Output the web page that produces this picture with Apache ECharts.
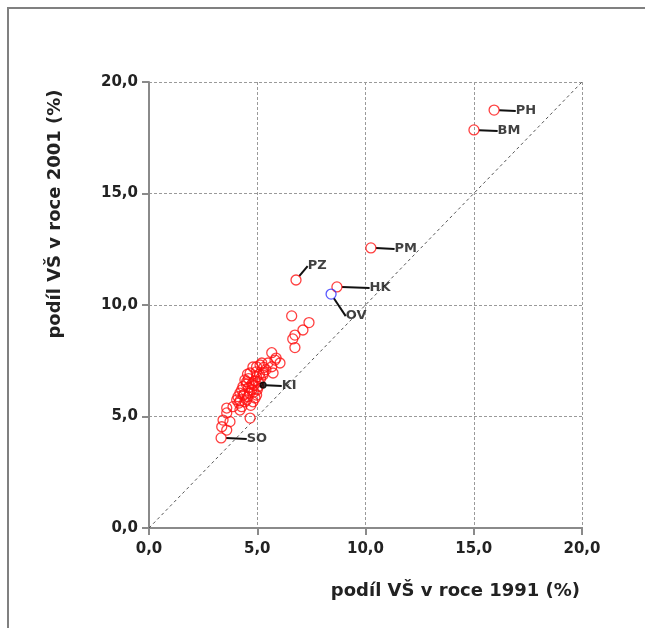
<!DOCTYPE html>
<html>
<head>
<meta charset="utf-8">
<script src="https://cdn.jsdelivr.net/npm/echarts@6/dist/echarts.min.js"></script>
<style>html,body{margin:0;padding:0;background:#fff}#c{width:645px;height:628px}</style>
</head>
<body>
<div id="c"></div>
<script>
// Unlabelled districts: share of university graduates 1991 vs 2001 (%)
const x1991 = [6.59,7.39,7.11,6.74,6.64,6.74,5.67,5.87,6.05,5.67,5.21,4.97,4.67,5.27,5.73,4.43,4.80,4.28,4.11,4.51,4.90,3.88,4.20,4.67,3.59,3.42,3.74,3.36,3.59,5.13,4.80,4.97,4.51,4.34,4.74,4.20,4.57,4.97,4.05,4.43,4.80,4.28,3.59,5.82,5.50,5.27,4.60,4.90,5.10,4.40,4.70,5.00,4.55,5.40,4.15,4.85,4.60,4.75,5.05,4.85,4.65,5.15,4.35,4.95,5.30,4.50,5.05,4.20];
const y2001 = [9.51,9.21,8.88,8.65,8.48,8.09,7.86,7.62,7.40,7.23,7.40,7.23,6.95,6.86,6.95,6.64,6.50,6.19,5.89,5.74,5.83,5.44,5.29,4.93,5.16,4.84,4.77,4.54,4.39,7.31,7.22,6.78,6.56,6.34,6.19,6.05,5.89,5.96,5.74,5.66,5.66,5.44,5.38,7.53,7.40,6.95,6.30,6.60,6.90,6.00,5.50,6.20,6.90,7.10,5.60,6.40,6.70,6.45,6.55,6.10,6.05,6.70,5.95,7.00,7.20,6.45,6.35,5.70];
// Labelled districts
const labNames = ['PH','BM','PM','PZ','HK','OV','KI','SO'];
const labX = [15.94,15.01,10.25,6.79,8.68,8.41,5.27,3.33];
const labY = [18.74,17.85,12.56,11.12,10.81,10.49,6.41,4.04];
// Axis ticks
const tickMin = 0, tickMax = 20, tickStep = 5;
const refLine = [0, 21.2];

const fmt = v => v.toFixed(1).replace('.', ',');
const labelOffsets = {PH:[16,1],BM:[18,1],PM:[18,1],PZ:[6,-14],HK:[27,1],OV:[9,22],KI:[15,1],SO:[20,1]};
const FONT = '"DejaVu Sans"';

const chart = echarts.init(document.getElementById('c'));
const axisCommon = {
  type: 'value', min: tickMin, max: tickMax, interval: tickStep,
  axisLine: {show: true, onZero: false, lineStyle: {color: '#8a8a8a', width: 2}},
  axisTick: {show: true, length: 7, lineStyle: {color: '#8a8a8a', width: 2}},
  axisLabel: {formatter: fmt, color: '#222', fontWeight: 'bold', fontSize: 15, fontFamily: 'DejaVu Sans'},
  splitLine: {show: true, lineStyle: {color: '#9a9a9a', type: [3, 2], width: 1}}
};
const labelledData = labNames.map((n, i) => {
  const d = {name: n, value: [labX[i], labY[i]]};
  if (n === 'OV') d.itemStyle = {borderColor: '#3030ff', color: 'transparent'};
  if (n === 'KI') { d.itemStyle = {color: '#000', borderColor: '#000'}; d.symbolSize = 6; }
  return d;
});
chart.setOption({
  animation: false,
  backgroundColor: '#fff',
  grid: {left: 149, right: 63, top: 82, bottom: 100},
  xAxis: [
    Object.assign({}, axisCommon, {axisLabel: Object.assign({}, axisCommon.axisLabel, {margin: 14})}),
    {type: 'value', min: tickMin, max: tickMax, position: 'top', axisLine: {show: true, lineStyle: {color: '#8a8a8a', width: 2}}, axisTick: {show: false}, axisLabel: {show: false}, splitLine: {show: false}}
  ],
  yAxis: Object.assign({}, axisCommon, {axisLabel: Object.assign({}, axisCommon.axisLabel, {margin: 11})}),
  graphic: [
    {type: 'rect', shape: {x: 8, y: 8, width: 720, height: 720}, style: {fill: 'none', stroke: '#808080', lineWidth: 2}, z: -10},
    {type: 'text', x: 580, y: 591, style: {text: 'podíl VŠ v roce 1991 (%)', font: 'bold 18px ' + FONT, fill: '#222', textAlign: 'right', textVerticalAlign: 'middle'}},
    {type: 'text', x: 55, y: 214, rotation: Math.PI / 2, style: {text: 'podíl VŠ v roce 2001 (%)', font: 'bold 18px ' + FONT, fill: '#222', textAlign: 'center', textVerticalAlign: 'middle'}}
  ],
  series: [
    {
      type: 'line', data: refLine.map(v => [v, v]), symbol: 'none', clip: false, silent: true,
      lineStyle: {color: '#555', width: 1, type: [3, 3]}, z: 1
    },
    {
      type: 'scatter', data: x1991.map((v, i) => [v, y2001[i]]), symbol: 'circle', symbolSize: 10,
      itemStyle: {color: 'transparent', borderColor: '#ff1010', borderWidth: 1.3}, z: 3
    },
    {
      type: 'scatter', data: labelledData, symbol: 'circle', symbolSize: 10,
      itemStyle: {color: 'transparent', borderColor: '#ff1010', borderWidth: 1.3}, z: 4,
      label: {show: true, position: 'right', distance: 0, formatter: p => p.name, color: '#111', fontWeight: 'bold', fontSize: 13, fontFamily: 'DejaVu Sans'},
      labelLine: {show: true, lineStyle: {color: '#111', width: 2}},
      labelLayout: p => { const o = labelOffsets[labNames[p.dataIndex]]; return {dx: o[0], dy: o[1]}; }
    }
  ]
});
</script>
</body>
</html>
